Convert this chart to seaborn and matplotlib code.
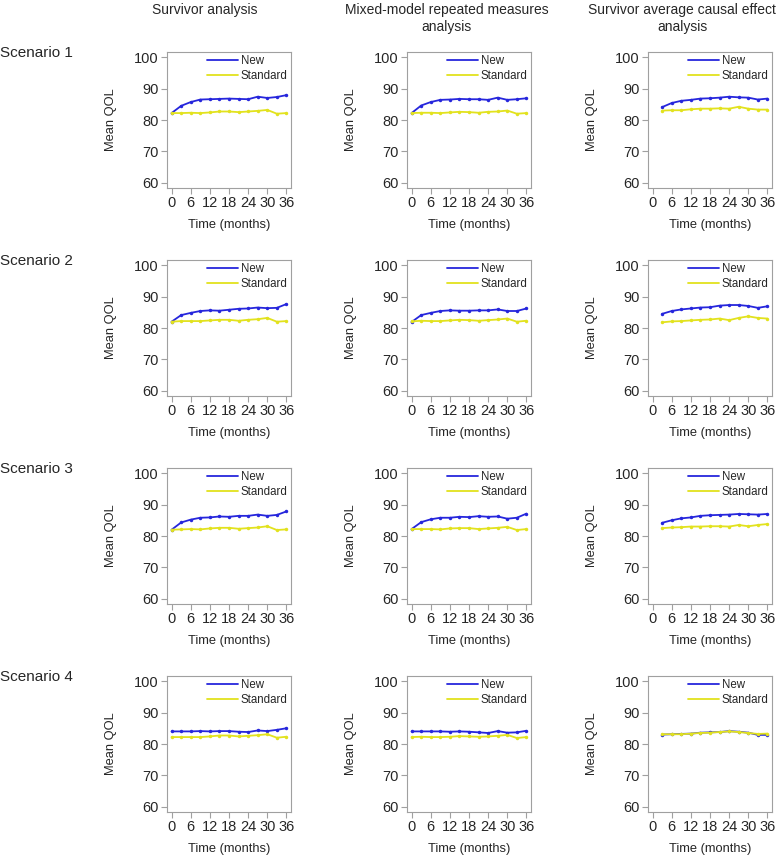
import numpy as np
import pandas as pd
import seaborn as sns
import matplotlib.pyplot as plt
from matplotlib.lines import Line2D

months_full = [0, 3, 6, 9, 12, 15, 18, 21, 24, 27, 30, 33, 36]
months_sace = [3, 6, 9, 12, 15, 18, 21, 24, 27, 30, 33, 36]

methods = ["Survivor analysis", "Mixed-model repeated measures\nanalysis",
           "Survivor average causal effect\nanalysis"]
scenarios = ["Scenario 1", "Scenario 2", "Scenario 3", "Scenario 4"]

# scenario 1
s1_surv_new = [82.2, 84.5, 85.7, 86.5, 86.6, 86.7, 86.8, 86.7, 86.6, 87.4, 87.0, 87.3, 87.9]
s1_surv_std = [82.2, 82.2, 82.3, 82.2, 82.4, 82.7, 82.7, 82.5, 82.7, 82.9, 83.2, 82.0, 82.2]
s1_mmrm_new = [82.2, 84.6, 85.7, 86.4, 86.5, 86.7, 86.6, 86.6, 86.4, 87.1, 86.4, 86.6, 86.9]
s1_mmrm_std = [82.2, 82.3, 82.3, 82.2, 82.4, 82.6, 82.5, 82.3, 82.6, 82.7, 83.0, 82.0, 82.2]
s1_sace_new = [84.1, 85.4, 86.1, 86.4, 86.8, 86.9, 87.1, 87.4, 87.2, 87.1, 86.5, 86.8]
s1_sace_std = [83.0, 83.1, 83.1, 83.4, 83.6, 83.6, 83.7, 83.6, 84.2, 83.6, 83.3, 83.3]
# scenario 2
s2_surv_new = [82.0, 84.1, 84.8, 85.4, 85.6, 85.5, 85.8, 86.1, 86.2, 86.5, 86.3, 86.4, 87.6]
s2_surv_std = [82.0, 82.2, 82.2, 82.2, 82.4, 82.6, 82.6, 82.3, 82.6, 82.8, 83.2, 82.0, 82.2]
s2_mmrm_new = [81.9, 84.1, 84.8, 85.4, 85.6, 85.5, 85.5, 85.6, 85.6, 85.9, 85.4, 85.4, 86.2]
s2_mmrm_std = [82.1, 82.3, 82.2, 82.2, 82.4, 82.6, 82.5, 82.3, 82.5, 82.7, 83.0, 82.0, 82.3]
s2_sace_new = [84.5, 85.4, 85.9, 86.2, 86.5, 86.6, 87.1, 87.3, 87.3, 87.0, 86.4, 86.9]
s2_sace_std = [81.8, 82.1, 82.2, 82.4, 82.6, 82.7, 83.0, 82.5, 83.2, 83.7, 83.2, 83.0]
# scenario 3
s3_surv_new = [82.0, 84.3, 85.2, 85.8, 85.9, 86.2, 86.1, 86.4, 86.4, 86.8, 86.4, 86.7, 87.8]
s3_surv_std = [82.0, 82.1, 82.2, 82.1, 82.4, 82.6, 82.6, 82.3, 82.5, 82.7, 83.1, 81.9, 82.1]
s3_mmrm_new = [82.2, 84.4, 85.3, 85.8, 85.8, 86.1, 86.0, 86.3, 86.1, 86.2, 85.5, 85.8, 87.1]
s3_mmrm_std = [82.2, 82.2, 82.2, 82.1, 82.4, 82.5, 82.5, 82.2, 82.4, 82.6, 82.9, 81.9, 82.2]
s3_sace_new = [84.2, 85.0, 85.6, 85.9, 86.4, 86.6, 86.7, 86.8, 87.0, 86.9, 86.8, 87.0]
s3_sace_std = [82.5, 82.7, 82.8, 83.0, 83.0, 83.1, 83.1, 83.0, 83.5, 83.1, 83.5, 83.8]
# scenario 4
s4_surv_new = [84.0, 84.0, 84.0, 84.1, 84.0, 84.1, 84.1, 83.9, 83.8, 84.3, 84.1, 84.5, 85.0]
s4_surv_std = [82.2, 82.2, 82.2, 82.2, 82.4, 82.7, 82.7, 82.4, 82.6, 82.8, 83.1, 82.0, 82.3]
s4_mmrm_new = [84.0, 84.0, 84.0, 84.0, 83.9, 84.0, 83.9, 83.7, 83.5, 84.1, 83.6, 83.7, 84.2]
s4_mmrm_std = [82.2, 82.3, 82.2, 82.2, 82.3, 82.5, 82.4, 82.3, 82.4, 82.6, 82.9, 81.9, 82.2]
s4_sace_new = [83.0, 83.1, 83.2, 83.3, 83.6, 83.7, 83.8, 84.1, 83.9, 83.6, 82.9, 82.9]
s4_sace_std = [83.1, 83.1, 83.1, 83.3, 83.5, 83.6, 83.8, 84.0, 83.8, 83.5, 83.2, 83.3]

panels = [
    [(s1_surv_new, s1_surv_std), (s1_mmrm_new, s1_mmrm_std), (s1_sace_new, s1_sace_std)],
    [(s2_surv_new, s2_surv_std), (s2_mmrm_new, s2_mmrm_std), (s2_sace_new, s2_sace_std)],
    [(s3_surv_new, s3_surv_std), (s3_mmrm_new, s3_mmrm_std), (s3_sace_new, s3_sace_std)],
    [(s4_surv_new, s4_surv_std), (s4_mmrm_new, s4_mmrm_std), (s4_sace_new, s4_sace_std)],
]

blue = "#2626dc"
yellow = "#e2e21e"
palette = {"New": blue, "Standard": yellow}

sns.set_style("white")
plt.rcParams["font.family"] = ["Liberation Sans", "DejaVu Sans"]

W, H = 777, 863
fig = plt.figure(figsize=(W / 100, H / 100), dpi=100)

lefts = [167, 407, 648]
box_w, box_h = 124, 136
tops = [52, 260, 468, 676]
grey = "#a0a0a0"

for r in range(4):
    for c in range(3):
        ax = fig.add_axes([lefts[c] / W, 1 - (tops[r] + box_h) / H, box_w / W, box_h / H])
        new, std = panels[r][c]
        xs = months_sace if c == 2 else months_full
        d = pd.DataFrame({"Time": xs * 2,
                          "QOL": new + std,
                          "Group": ["New"] * len(xs) + ["Standard"] * len(xs)})
        sns.lineplot(data=d, x="Time", y="QOL", hue="Group", palette=palette,
                     marker="o", markersize=2.5, markeredgewidth=0, linewidth=1.3,
                     ax=ax, legend=False)
        ax.set_xlim(-1.44, 37.44)
        ax.set_ylim(58.4, 101.6)
        ax.set_xticks(range(0, 37, 6))
        ax.set_yticks([60, 70, 80, 90, 100])
        for s in ax.spines.values():
            s.set_color(grey)
            s.set_linewidth(0.8)
        ax.tick_params(axis="both", length=4, width=0.8, color=grey,
                       labelsize=10.5, pad=2, direction="out", bottom=True, left=True)
        ax.set_xlabel("Time (months)", fontsize=9.3, labelpad=6)
        ax.set_ylabel("Mean QOL", fontsize=9.3, labelpad=12)
        handles = [Line2D([], [], color=blue, lw=1.3), Line2D([], [], color=yellow, lw=1.3)]
        ax.legend(handles, ["New", "Standard"], loc="upper right", frameon=False,
                  fontsize=8.3, handlelength=2.7, handletextpad=0.2,
                  borderaxespad=0.2, labelspacing=0.25, borderpad=0.1)
    fig.text(0.0, 1 - (tops[r] + 1) / H, scenarios[r], fontsize=11, ha="left", va="center")

fig.text(205 / W, 1 - 3 / H, methods[0], fontsize=10, ha="center", va="top", linespacing=1.3)
fig.text(447 / W, 1 - 3 / H, methods[1], fontsize=10, ha="center", va="top",
         linespacing=1.3, multialignment="center")
fig.text(776 / W, 1 - 3 / H, methods[2], fontsize=10, ha="right", va="top",
         linespacing=1.3, multialignment="center")

fig.savefig("out.png", dpi=100)
